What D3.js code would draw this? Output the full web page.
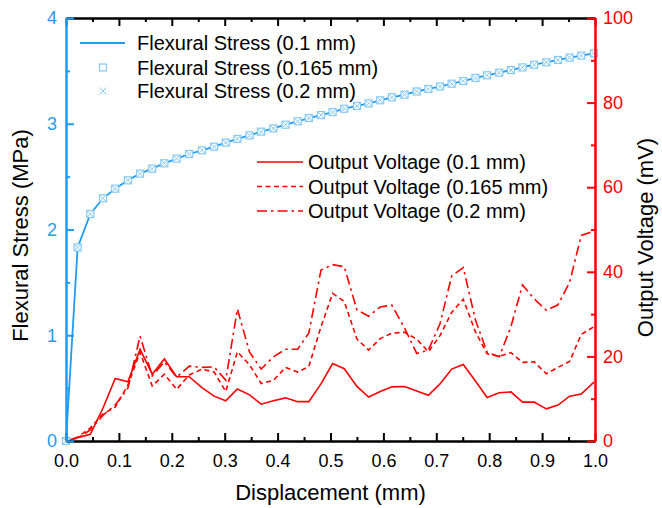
<!DOCTYPE html>
<html>
<head>
<meta charset="utf-8">
<style>
  body { margin: 0; background: #fff; font-family: "Liberation Sans", Arial, sans-serif; }
  svg { display: block; }
</style>
<script src="https://d3js.org/d3.v7.min.js"></script>
</head>
<body>
<svg id="chart"></svg>
<script>
  // displacement (mm), shared by all series
  let displacement = [0, 0.022, 0.046, 0.070, 0.093, 0.117, 0.140, 0.163, 0.186, 0.209, 0.233,
    0.257, 0.280, 0.302, 0.324, 0.347, 0.369, 0.392, 0.415, 0.438, 0.459, 0.482, 0.504, 0.526,
    0.550, 0.572, 0.594, 0.616, 0.640, 0.663, 0.685, 0.707, 0.729, 0.751, 0.774, 0.796, 0.819,
    0.841, 0.863, 0.885, 0.908, 0.930, 0.952, 0.974, 0.998];

  // flexural stress (MPa) - the three thicknesses overlap in the figure
  let stress01 = [0, 1.83, 2.147, 2.295, 2.386, 2.465, 2.528, 2.575, 2.626, 2.67, 2.714, 2.749,
    2.783, 2.821, 2.856, 2.89, 2.925, 2.956, 2.991, 3.023, 3.054, 3.082, 3.111, 3.142, 3.168,
    3.193, 3.222, 3.25, 3.275, 3.305, 3.329, 3.352, 3.379, 3.404, 3.433, 3.458, 3.483, 3.508,
    3.533, 3.558, 3.581, 3.603, 3.625, 3.644, 3.666];
  let stress0165 = stress01.slice();
  let stress02 = stress01.slice();

  // output voltage (mV)
  let voltage01 = [0, 0.8, 1.6, 7.8, 14.8, 14.0, 21.7, 15.8, 19.4, 15.2, 15.2, 12.6, 10.6, 9.5,
    12.3, 10.9, 8.7, 9.5, 10.2, 9.3, 9.3, 13.5, 18.3, 17.1, 12.9, 10.4, 11.7, 12.8, 12.9, 11.8,
    10.8, 13.5, 17.0, 18.1, 14.2, 10.3, 11.4, 11.6, 9.2, 9.2, 7.6, 8.5, 10.6, 11.1, 13.9];
  let voltage0165 = [0, 0.9, 3.1, 6.4, 8.0, 13.2, 21.0, 13.0, 15.8, 12.2, 15.6, 17.0, 16.3, 11.7,
    21.1, 18.0, 13.6, 14.3, 17.4, 16.3, 17.6, 27.0, 34.9, 33.0, 24.1, 21.5, 24.2, 25.5, 25.7,
    24.1, 21.1, 24.9, 30.4, 33.5, 25.8, 20.6, 20.0, 20.9, 18.6, 18.7, 15.9, 17.4, 18.8, 25.2, 27.0];
  let voltage02 = [0, 0.7, 2.6, 6.1, 8.5, 12.5, 24.8, 15.4, 18.7, 15.1, 17.7, 17.4, 17.5, 14.4,
    31.2, 21.0, 17.0, 19.9, 21.7, 21.7, 25.5, 40.4, 41.7, 41.2, 31.0, 29.5, 31.7, 32.1, 26.7,
    20.7, 21.5, 27.7, 39.0, 41.0, 28.6, 21.0, 19.9, 27.0, 36.9, 33.6, 30.9, 32.2, 37.5, 48.6, 49.6];

  let xTicks = [0, 0.1, 0.2, 0.3, 0.4, 0.5, 0.6, 0.7, 0.8, 0.9, 1.0];
  let leftTicks = [0, 1, 2, 3, 4];
  let rightTicks = [0, 20, 40, 60, 80, 100];

  let stressLegend = ["Flexural Stress (0.1 mm)", "Flexural Stress (0.165 mm)", "Flexural Stress (0.2 mm)"];
  let voltageLegend = ["Output Voltage (0.1 mm)", "Output Voltage (0.165 mm)", "Output Voltage (0.2 mm)"];

  let blue = "#1f9cf0";
  let lightBlue = "#86c9f5";
  let red = "#ff0000";

  let width = 662, height = 508;
  let margin = { top: 18, right: 67, bottom: 67, left: 66 };

  let svg = d3.select("#chart").attr("width", width).attr("height", height);

  let x = d3.scaleLinear().domain([0, 1]).range([margin.left, width - margin.right]);
  let yL = d3.scaleLinear().domain([0, 4]).range([height - margin.bottom, margin.top]);
  let yR = d3.scaleLinear().domain([0, 100]).range([height - margin.bottom, margin.top]);

  let bottomY = height - margin.bottom;
  let rightX = width - margin.right;

  function styleAxis(g, color, size) {
    g.select(".domain").attr("stroke", color).attr("stroke-width", 2);
    g.selectAll(".tick line").attr("stroke", color).attr("stroke-width", 2);
    g.selectAll(".tick text").attr("fill", color).style("font-size", size + "px")
      .style("font-family", '"Liberation Sans", Arial, sans-serif');
  }

  // minor tick values
  let xMinor = d3.range(0.05, 1, 0.1);
  let leftMinor = d3.range(0.5, 4, 1);
  let rightMinor = d3.range(10, 100, 20);

  // ---- data layers ----
  let lineStress = d3.line().x((d, i) => x(displacement[i])).y(d => yL(d));
  let lineVolt = d3.line().x((d, i) => x(displacement[i])).y(d => yR(d));

  let plot = svg.append("g");

  let voltStyles = [
    { data: voltage01, dash: null },
    { data: voltage0165, dash: "5,3.5" },
    { data: voltage02, dash: "10,4,2.5,4" }
  ];
  voltStyles.forEach(s => {
    plot.append("path")
      .attr("d", lineVolt(s.data))
      .attr("fill", "none")
      .attr("stroke", red)
      .attr("stroke-width", 1.6)
      .attr("stroke-dasharray", s.dash);
  });

  plot.append("path")
    .attr("d", lineStress(stress01))
    .attr("fill", "none")
    .attr("stroke", blue)
    .attr("stroke-width", 1.8);

  plot.selectAll(".sq").data(stress0165).enter().append("rect")
    .attr("x", (d, i) => x(displacement[i]) - 3.5)
    .attr("y", d => yL(d) - 3.5)
    .attr("width", 7).attr("height", 7)
    .attr("fill", "#fff")
    .attr("stroke", lightBlue).attr("stroke-width", 1.2);

  function crossPath(cx, cy, r) {
    return `M${cx - r},${cy - r}L${cx + r},${cy + r}M${cx - r},${cy + r}L${cx + r},${cy - r}`;
  }
  plot.selectAll(".cr").data(stress02).enter().append("path")
    .attr("d", (d, i) => crossPath(x(displacement[i]), yL(d), 3))
    .attr("stroke", lightBlue).attr("stroke-width", 1);

  // ---- axes ----
  // top axis (no labels)
  let topAxis = svg.append("g").attr("transform", `translate(0,${margin.top})`)
    .call(d3.axisTop(x).tickValues(xTicks).tickSizeInner(-8).tickSizeOuter(0).tickFormat(""));
  styleAxis(topAxis, "#000", 18);
  svg.append("g").attr("transform", `translate(0,${margin.top})`)
    .call(d3.axisTop(x).tickValues(xMinor).tickSizeInner(-4).tickSizeOuter(0).tickFormat(""))
    .call(g => styleAxis(g, "#000", 18));

  // bottom axis
  let bottomAxis = svg.append("g").attr("transform", `translate(0,${bottomY})`)
    .call(d3.axisBottom(x).tickValues(xTicks).tickSizeInner(-8).tickSizeOuter(0)
      .tickPadding(13).tickFormat(d3.format(".1f")));
  styleAxis(bottomAxis, "#000", 18);
  svg.append("g").attr("transform", `translate(0,${bottomY})`)
    .call(d3.axisBottom(x).tickValues(xMinor).tickSizeInner(-4).tickSizeOuter(0).tickFormat(""))
    .call(g => styleAxis(g, "#000", 18));

  // left axis
  let leftAxis = svg.append("g").attr("transform", `translate(${margin.left},0)`)
    .call(d3.axisLeft(yL).tickValues(leftTicks).tickSizeInner(-8).tickSizeOuter(0)
      .tickPadding(9).tickFormat(d3.format("d")));
  styleAxis(leftAxis, blue, 18);
  svg.append("g").attr("transform", `translate(${margin.left},0)`)
    .call(d3.axisLeft(yL).tickValues(leftMinor).tickSizeInner(-4).tickSizeOuter(0).tickFormat(""))
    .call(g => styleAxis(g, blue, 18));

  // right axis
  let rightAxis = svg.append("g").attr("transform", `translate(${rightX},0)`)
    .call(d3.axisRight(yR).tickValues(rightTicks).tickSizeInner(-8).tickSizeOuter(0)
      .tickPadding(8).tickFormat(d3.format("d")));
  styleAxis(rightAxis, red, 18);
  svg.append("g").attr("transform", `translate(${rightX},0)`)
    .call(d3.axisRight(yR).tickValues(rightMinor).tickSizeInner(-4).tickSizeOuter(0).tickFormat(""))
    .call(g => styleAxis(g, red, 18));

  // ---- titles ----
  svg.append("text")
    .attr("x", (margin.left + rightX) / 2).attr("y", 500)
    .attr("text-anchor", "middle")
    .style("font-size", "22px")
    .text("Displacement (mm)");

  svg.append("text")
    .attr("transform", `translate(28,${(margin.top + bottomY) / 2 + 6}) rotate(-90)`)
    .attr("text-anchor", "middle")
    .style("font-size", "22px")
    .text("Flexural Stress (MPa)");

  svg.append("text")
    .attr("transform", `translate(653,${(margin.top + bottomY) / 2 + 8}) rotate(-90)`)
    .attr("text-anchor", "middle")
    .style("font-size", "22px")
    .text("Output Voltage (mV)");

  // ---- legends ----
  let leg1 = svg.append("g");
  let rows1 = [43, 67.5, 91];
  leg1.append("line").attr("x1", 80).attr("x2", 125).attr("y1", rows1[0]).attr("y2", rows1[0])
    .attr("stroke", blue).attr("stroke-width", 1.8);
  leg1.append("rect").attr("x", 99.5).attr("y", rows1[1] - 3.5).attr("width", 7).attr("height", 7)
    .attr("fill", "#fff").attr("stroke", lightBlue).attr("stroke-width", 1.2);
  leg1.append("path").attr("d", crossPath(103, rows1[2], 3.5))
    .attr("stroke", lightBlue).attr("stroke-width", 1);
  stressLegend.forEach((t, i) => {
    leg1.append("text").attr("x", 137).attr("y", rows1[i]).attr("dy", "0.35em")
      .style("font-size", "20px").text(t);
  });

  let leg2 = svg.append("g");
  let rows2 = [162, 186.5, 211];
  voltStyles.forEach((s, i) => {
    leg2.append("line").attr("x1", 257).attr("x2", 303).attr("y1", rows2[i]).attr("y2", rows2[i])
      .attr("stroke", red).attr("stroke-width", 1.6).attr("stroke-dasharray", s.dash);
    leg2.append("text").attr("x", 308).attr("y", rows2[i]).attr("dy", "0.35em")
      .style("font-size", "20px").text(voltageLegend[i]);
  });
</script>
</body>
</html>
